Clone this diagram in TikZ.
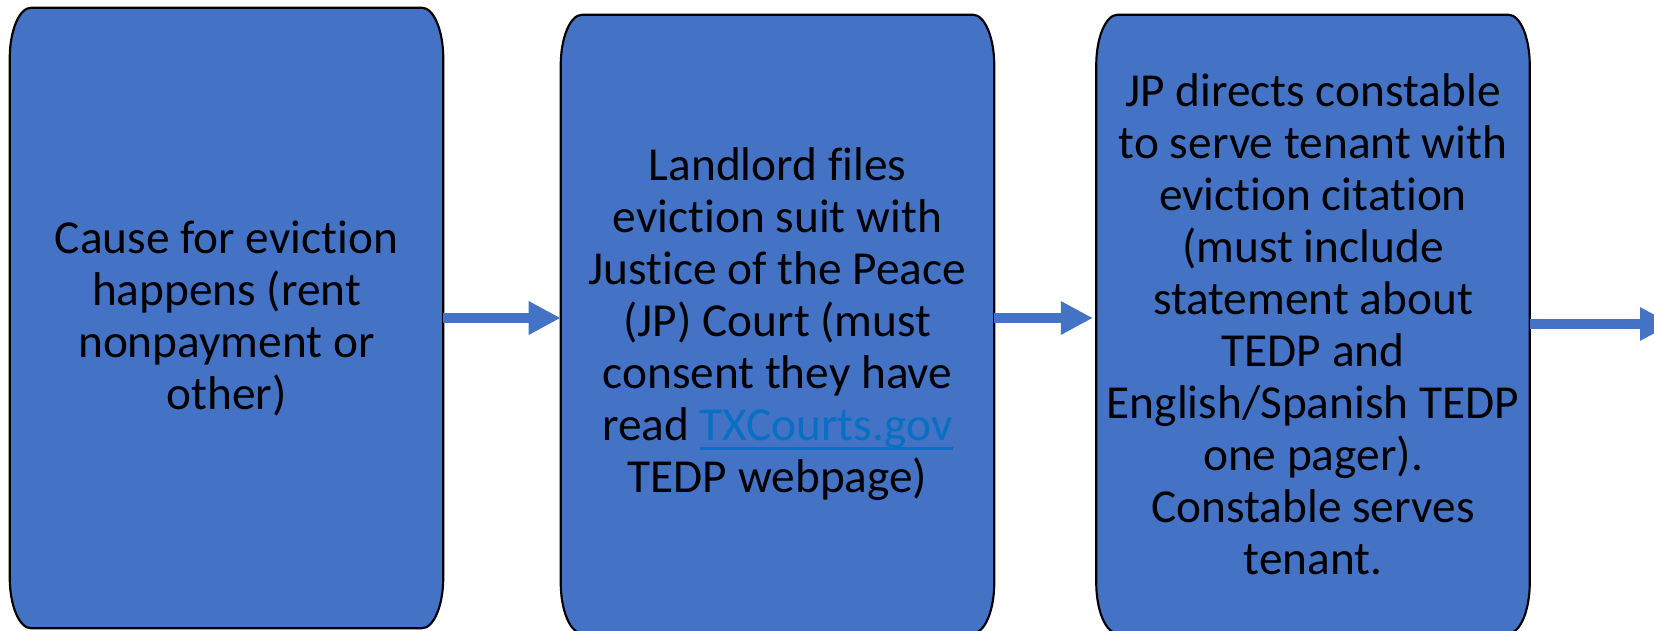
\documentclass[tikz,border=0pt]{standalone}
\usepackage{fontspec}
\setmainfont{Carlito}[Ligatures=NoCommon]
\usetikzlibrary{arrows.meta,backgrounds}

\definecolor{cardblue}{HTML}{4472C4}
\definecolor{linkblue}{HTML}{0570C4}

% underlined web link
\newlength{\linkwd}
\newcommand{\weblink}[1]{\settowidth{\linkwd}{#1}%
  \textcolor{linkblue}{#1\llap{\rule[-7.5pt]{\linkwd}{2.2pt}}}}

% box outline with flattened corners, drawn round a named node
\newcommand{\cardoutline}[1]{%
  \draw[cardline] ([xshift=16pt]#1.north west) -- ([xshift=-16pt]#1.north east)
    arc[start angle=90,end angle=0,x radius=16pt,y radius=38pt]
    -- ([yshift=38pt]#1.south east)
    arc[start angle=0,end angle=-90,x radius=16pt,y radius=38pt]
    -- ([xshift=16pt]#1.south west)
    arc[start angle=270,end angle=180,x radius=16pt,y radius=38pt]
    -- ([yshift=-38pt]#1.north west)
    arc[start angle=180,end angle=90,x radius=16pt,y radius=38pt]
    -- cycle;}

\tikzset{
  cardline/.style={draw=black, line width=1.6pt, fill=cardblue},
  card/.style={align=center, inner sep=0pt, minimum width=324.75pt,
    font=\fontsize{35.5}{39}\selectfont},
  flow/.style={draw=cardblue, line width=8pt,
    -{Triangle[length=24pt,width=23.5pt]}}
}

\begin{document}
\begin{tikzpicture}[x=0.75pt,y=-0.75pt]
  \useasboundingbox (0,0) rectangle (1654,631);

  % --- the three steps ---
  \node[card, minimum height=465pt] (cause) at (226.5,318)
    {Cause for eviction\\happens (rent\\nonpayment or\\other)};
  \node[card, minimum height=463.5pt] (filing) at (777.5,324)
    {Landlord files\\eviction suit with\\Justice of the Peace\\(JP) Court (must\\consent they have\\read \weblink{TXCourts.gov}\\TEDP webpage)};
  \node[card, minimum height=463.5pt] (citation) at (1313,324)
    {JP directs constable\\to serve tenant with\\eviction citation\\(must include\\statement about\\TEDP and\\English/Spanish TEDP\\one pager).\\Constable serves\\tenant.};

  % --- box outlines behind the text ---
  \begin{scope}[on background layer]
    \foreach \n in {cause,filing,citation} {
      \cardoutline{\n}
    }
  \end{scope}

  % --- arrows between steps ---
  \coordinate (onward) at (1672,324);
  \draw[flow] (cause.east) -- (filing.west |- cause.east);
  \draw[flow, shorten >=2.5pt] (filing.east |- cause.east) -- (citation.west |- cause.east);
  \draw[flow] (citation.east) -- (onward);
\end{tikzpicture}
\end{document}
